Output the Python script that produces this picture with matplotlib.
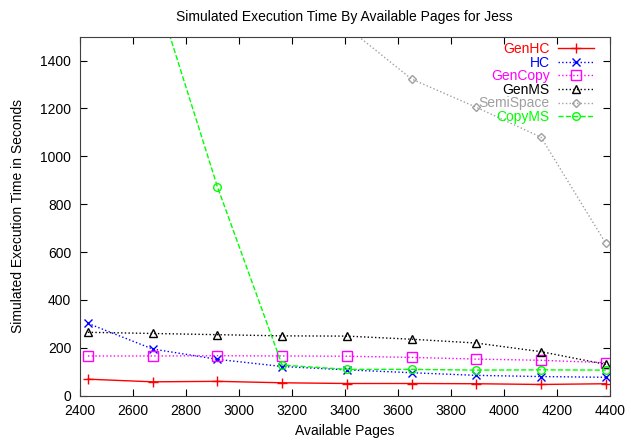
import numpy as np
import matplotlib
matplotlib.use('Agg')
import matplotlib.pyplot as plt

plt.rcParams['font.family'] = ['Liberation Sans', 'DejaVu Sans']

# Data
pages = [2432, 2676, 2920, 3164, 3408, 3652, 3896, 4140, 4384]
gen_hc = [69, 58, 60, 54, 51, 51, 50, 47, 50]
hc = [302, 195, 152, 122, 108, 96, 85, 80, 77]
gen_copy = [166, 166, 167, 166, 165, 160, 153, 148, 138]
gen_ms = [265, 260, 255, 250, 249, 236, 220, 184, 131]
semi_space = [np.nan, np.nan, np.nan, np.nan, 1540, 1323, 1205, 1080, 637]
copy_ms = [np.nan, 1730, 873, 128, 110, 110, 107, 108, 107]

# name, values, colour, linestyle, marker, marker size
series = [
    ('GenHC', gen_hc, '#ff0000', '-', '+', 6.5),
    ('HC', hc, '#0000ff', ':', 'x', 5.5),
    ('GenCopy', gen_copy, '#ff00ff', ':', 's', 6.5),
    ('GenMS', gen_ms, '#000000', ':', '^', 6),
    ('SemiSpace', semi_space, '#a0a0a0', ':', 'D', 4.5),
    ('CopyMS', copy_ms, '#00ff00', '--', 'o', 5.5),
]

fig = plt.figure(figsize=(6.31, 4.41), dpi=100)
ax = fig.add_axes([0.126, 0.1027, 0.8407, 0.8141])

for name, vals, col, ls, mk, ms in series:
    ax.plot(pages, vals, color=col, linestyle=ls, linewidth=1, marker=mk,
            markersize=ms, markerfacecolor='none', markeredgecolor=col,
            markeredgewidth=1, label=name)

ax.set_xlim(2400, 4400)
ax.set_ylim(0, 1500)
ax.set_xticks(np.arange(2400, 4401, 200))
ax.set_yticks(np.arange(0, 1401, 200))
ax.tick_params(direction='in', top=True, right=True, length=5, labelsize=10)
ax.tick_params(axis='y', pad=6)
ax.tick_params(axis='x', pad=6)
for sp in ax.spines.values():
    sp.set_color('#404040')

ax.set_title('Simulated Execution Time By Available Pages for Jess', fontsize=10, pad=11)
ax.set_xlabel('Available Pages', fontsize=10, labelpad=4)
ax.set_ylabel('Simulated Execution Time in Seconds', fontsize=10, labelpad=11)

leg = ax.legend(loc='upper right', bbox_to_anchor=(0.97, 0.985), markerfirst=False,
                frameon=False, fontsize=10, handlelength=2.6, handletextpad=0.6,
                labelspacing=-0.03, borderpad=0, borderaxespad=0)
for txt, s in zip(leg.get_texts(), series):
    txt.set_color(s[2])

fig.savefig('out.png', dpi=100)
